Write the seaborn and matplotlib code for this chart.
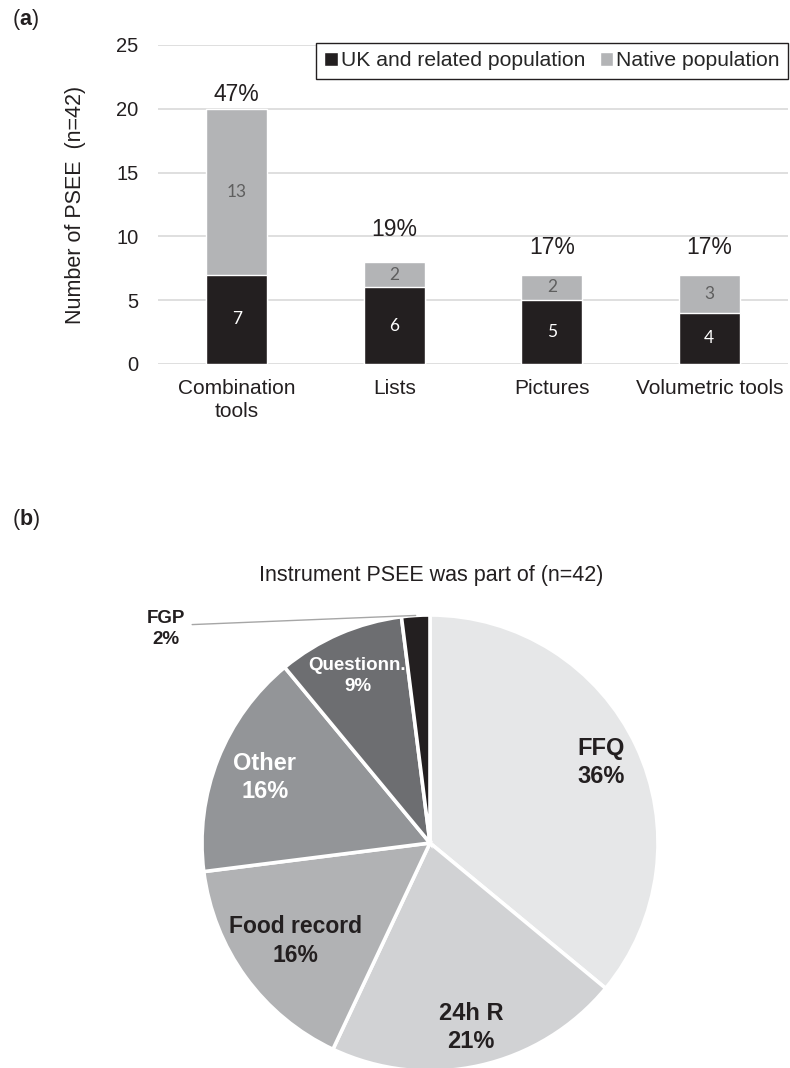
import numpy as np
import pandas as pd
import matplotlib
matplotlib.use("Agg")
import matplotlib.pyplot as plt
import seaborn as sns
from matplotlib.patches import Patch

# ---------------------------
# Data
# ---------------------------
tools = ["Combination\ntools", "Lists", "Pictures", "Volumetric tools"]
uk_related = [7, 6, 5, 4]
native = [13, 2, 2, 3]
share_labels = ["47%", "19%", "17%", "17%"]

instruments = ["FFQ", "24h R", "Food record", "Other", "Questionn.", "FGP"]
instrument_pct = [36, 21, 16, 16, 9, 2]

# ---------------------------
# Style
# ---------------------------
sns.set_theme(style="white")
plt.rcParams["font.family"] = ["Liberation Sans", "DejaVu Sans"]
plt.rcParams["mathtext.fontset"] = "custom"
plt.rcParams["mathtext.rm"] = "Liberation Sans"
plt.rcParams["mathtext.bf"] = "Liberation Sans:bold"

DARK = "#231f20"
GREY = "#b3b4b6"
W, H = 790, 1068

df = pd.DataFrame({"tool": tools, "uk": uk_related, "native": native})
df["total"] = df["uk"] + df["native"]

fig = plt.figure(figsize=(W / 100, H / 100), dpi=100)

# ---------------------------
# (a) stacked bars
# ---------------------------
ax = fig.add_axes([158 / W, 1 - 364 / H, 630 / W, 319 / H])
sns.barplot(data=df, x="tool", y="total", color=GREY, width=0.39,
            saturation=1, errorbar=None, ax=ax)
sns.barplot(data=df, x="tool", y="uk", color=DARK, width=0.39,
            saturation=1, errorbar=None, ax=ax)

for i, row in df.iterrows():
    ax.text(i, row["uk"] / 2, str(row["uk"]), color="white", ha="center",
            va="center", fontsize=12.5, family=["Lato", "DejaVu Sans"])
    ax.text(i, row["uk"] + row["native"] / 2, str(row["native"]),
            color="#5f5f5f", ha="center", va="center", fontsize=12.5,
            family=["Lato", "DejaVu Sans"])

label_offsets = [14, 32, 27, 27]   # px above bar top
for i, row in df.iterrows():
    ax.annotate(share_labels[i], (i, row["total"]),
                xytext=(0, label_offsets[i] * 0.72), textcoords="offset points",
                ha="center", va="center", fontsize=16.5, color=DARK)

ax.set_ylim(0, 25)
ax.set_xlim(-0.5, 3.5)
ax.set_yticks(range(0, 26, 5))
ax.grid(axis="y", color="#d9d9d9", linewidth=1.2)
ax.set_axisbelow(True)
for s in ax.spines.values():
    s.set_visible(False)
ax.tick_params(axis="y", length=0, pad=14, labelsize=14.5, labelcolor=DARK)
ax.tick_params(axis="x", length=0, pad=11, labelsize=15, labelcolor=DARK)
for t in ax.get_xticklabels():
    t.set_linespacing(1.25)
ax.set_xlabel("")
ax.set_ylabel("Number of PSEE  (n=42)", fontsize=15.5, color=DARK, labelpad=22)

handles = [Patch(facecolor=DARK), Patch(facecolor=GREY)]
leg = ax.legend(handles, ["UK and related population", "Native population"],
                loc="upper left", bbox_to_anchor=(316 / W, 1 - 43 / H),
                bbox_transform=fig.transFigure, ncol=2, frameon=True,
                fancybox=False, edgecolor=DARK, framealpha=1, fontsize=15.2,
                handlelength=0.62, handleheight=0.62, handletextpad=0.15,
                columnspacing=0.7, borderpad=0.4, borderaxespad=0)
leg.get_frame().set_linewidth(1.0)

# ---------------------------
# (b) pie
# ---------------------------
cx, cy, r = 430, 843, 228
ax2 = fig.add_axes([(cx - r) / W, (H - cy - r) / H, 2 * r / W, 2 * r / H])
pie_colors = ["#e6e7e8", "#d1d2d4", "#b1b2b4", "#939598", "#6d6e71", DARK]
wedges, _ = ax2.pie(instrument_pct, colors=pie_colors, startangle=90,
                    counterclock=False,
                    wedgeprops=dict(edgecolor="white", linewidth=2.6))
ax2.set_xlim(-1, 1)
ax2.set_ylim(-1, 1)

label_r = [0.83, 0.83, 0.73, 0.78, 0.80]
label_col = [DARK, DARK, DARK, "white", "white"]
label_fs = [17, 17, 16.5, 17, 13.5]
for k in range(5):
    w = wedges[k]
    ang = np.deg2rad((w.theta1 + w.theta2) / 2)
    ax2.text(label_r[k] * np.cos(ang), label_r[k] * np.sin(ang),
             f"{instruments[k]}\n{instrument_pct[k]}%", ha="center", va="center",
             fontsize=label_fs[k], fontweight="bold", color=label_col[k],
             linespacing=1.3)

w = wedges[5]
ang = np.deg2rad((w.theta1 + w.theta2) / 2)
ax2.annotate(f"{instruments[5]}\n{instrument_pct[5]}%",
             xy=(np.cos(ang), np.sin(ang)), xytext=(-1.16, 0.94),
             ha="center", va="center", fontsize=13.5, fontweight="bold",
             color=DARK, linespacing=1.3, annotation_clip=False,
             arrowprops=dict(arrowstyle="-", color="#a6a6a6", lw=1,
                             relpos=(1, 0.6), shrinkA=3, shrinkB=0))

# ---------------------------
# Titles / panel labels
# ---------------------------
fig.text(431 / W, 1 - 576 / H, "Instrument PSEE was part of (n=42)",
         ha="center", va="center", fontsize=15.5, color=DARK)
fig.text(12 / W, 1 - 20 / H, r"($\mathbf{a}$)", ha="left", va="center",
         fontsize=15.5, color=DARK)
fig.text(12 / W, 1 - 519 / H, r"($\mathbf{b}$)", ha="left", va="center",
         fontsize=15.5, color=DARK)

fig.savefig("out.png", dpi=100)
plt.close(fig)
